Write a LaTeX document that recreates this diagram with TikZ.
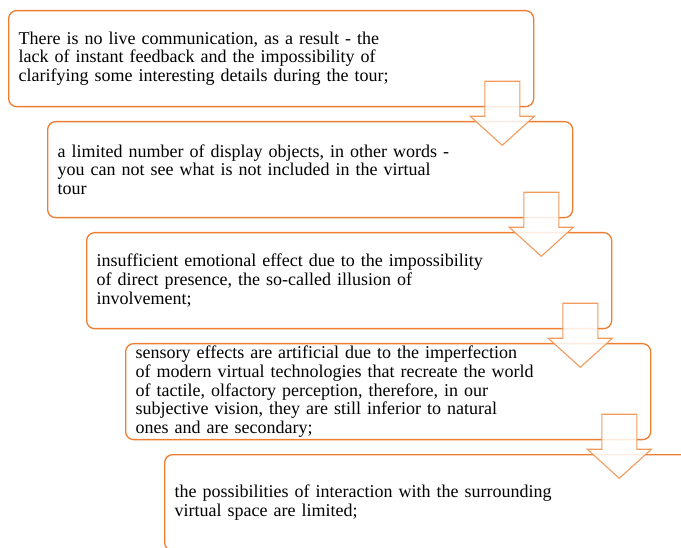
\documentclass[tikz,border=0pt]{standalone}
\usepackage{fontspec}
\setmainfont{Liberation Serif}
\definecolor{boxorange}{HTML}{ED7D31}
\definecolor{arroworange}{HTML}{F29B5C}
\tikzset{
  stage/.style={draw=boxorange, line width=1.3pt, fill=white, rounded corners=8pt,
    anchor=north west, text width=505pt, inner xsep=10pt, inner ysep=0pt,
    minimum height=96pt, align=left, font=\fontsize{18}{18.7}\selectfont},
  blockarrow/.style={draw=arroworange, line width=1.1pt, fill=white, fill opacity=0.85}
}
\begin{document}
\begin{tikzpicture}[x=1pt,y=-1pt]
\path[use as bounding box, clip] (0,0) rectangle (681,548);

    \node[stage] (1) at (8,10) {There is no live communication, as a result - the\\ lack of instant feedback and the impossibility of\\ clarifying some interesting details during the tour;};
    \node[stage] (2) at (47,121) {a limited number of display objects, in other words -\\ you can not see what is not included in the virtual\\ tour};
    \node[stage] (3) at (86,232) {insufficient emotional effect due to the impossibility\\ of direct presence, the so-called illusion of\\ involvement;};
    \node[stage] (4) at (125,343) {sensory effects are artificial due to the imperfection\\ of modern virtual technologies that recreate the world\\ of tactile, olfactory perception, therefore, in our\\ subjective vision, they are still inferior to natural\\ ones and are secondary;};
    \node[stage] (5) at (164,454) {the possibilities of interaction with the surrounding\\ virtual space are limited;};

\draw[blockarrow] ([shift={(-49.5,-26)}]1.south east) -- ++(35,0) -- ++(0,35) -- ++(14.5,0) -- ++(-32,29) -- ++(-32,-29) -- ++(14.5,0) -- cycle;
\draw[blockarrow] ([shift={(-49.5,-26)}]2.south east) -- ++(35,0) -- ++(0,35) -- ++(14.5,0) -- ++(-32,29) -- ++(-32,-29) -- ++(14.5,0) -- cycle;
\draw[blockarrow] ([shift={(-49.5,-26)}]3.south east) -- ++(35,0) -- ++(0,35) -- ++(14.5,0) -- ++(-32,29) -- ++(-32,-29) -- ++(14.5,0) -- cycle;
\draw[blockarrow] ([shift={(-49.5,-26)}]4.south east) -- ++(35,0) -- ++(0,35) -- ++(14.5,0) -- ++(-32,29) -- ++(-32,-29) -- ++(14.5,0) -- cycle;
\end{tikzpicture}
\end{document}
